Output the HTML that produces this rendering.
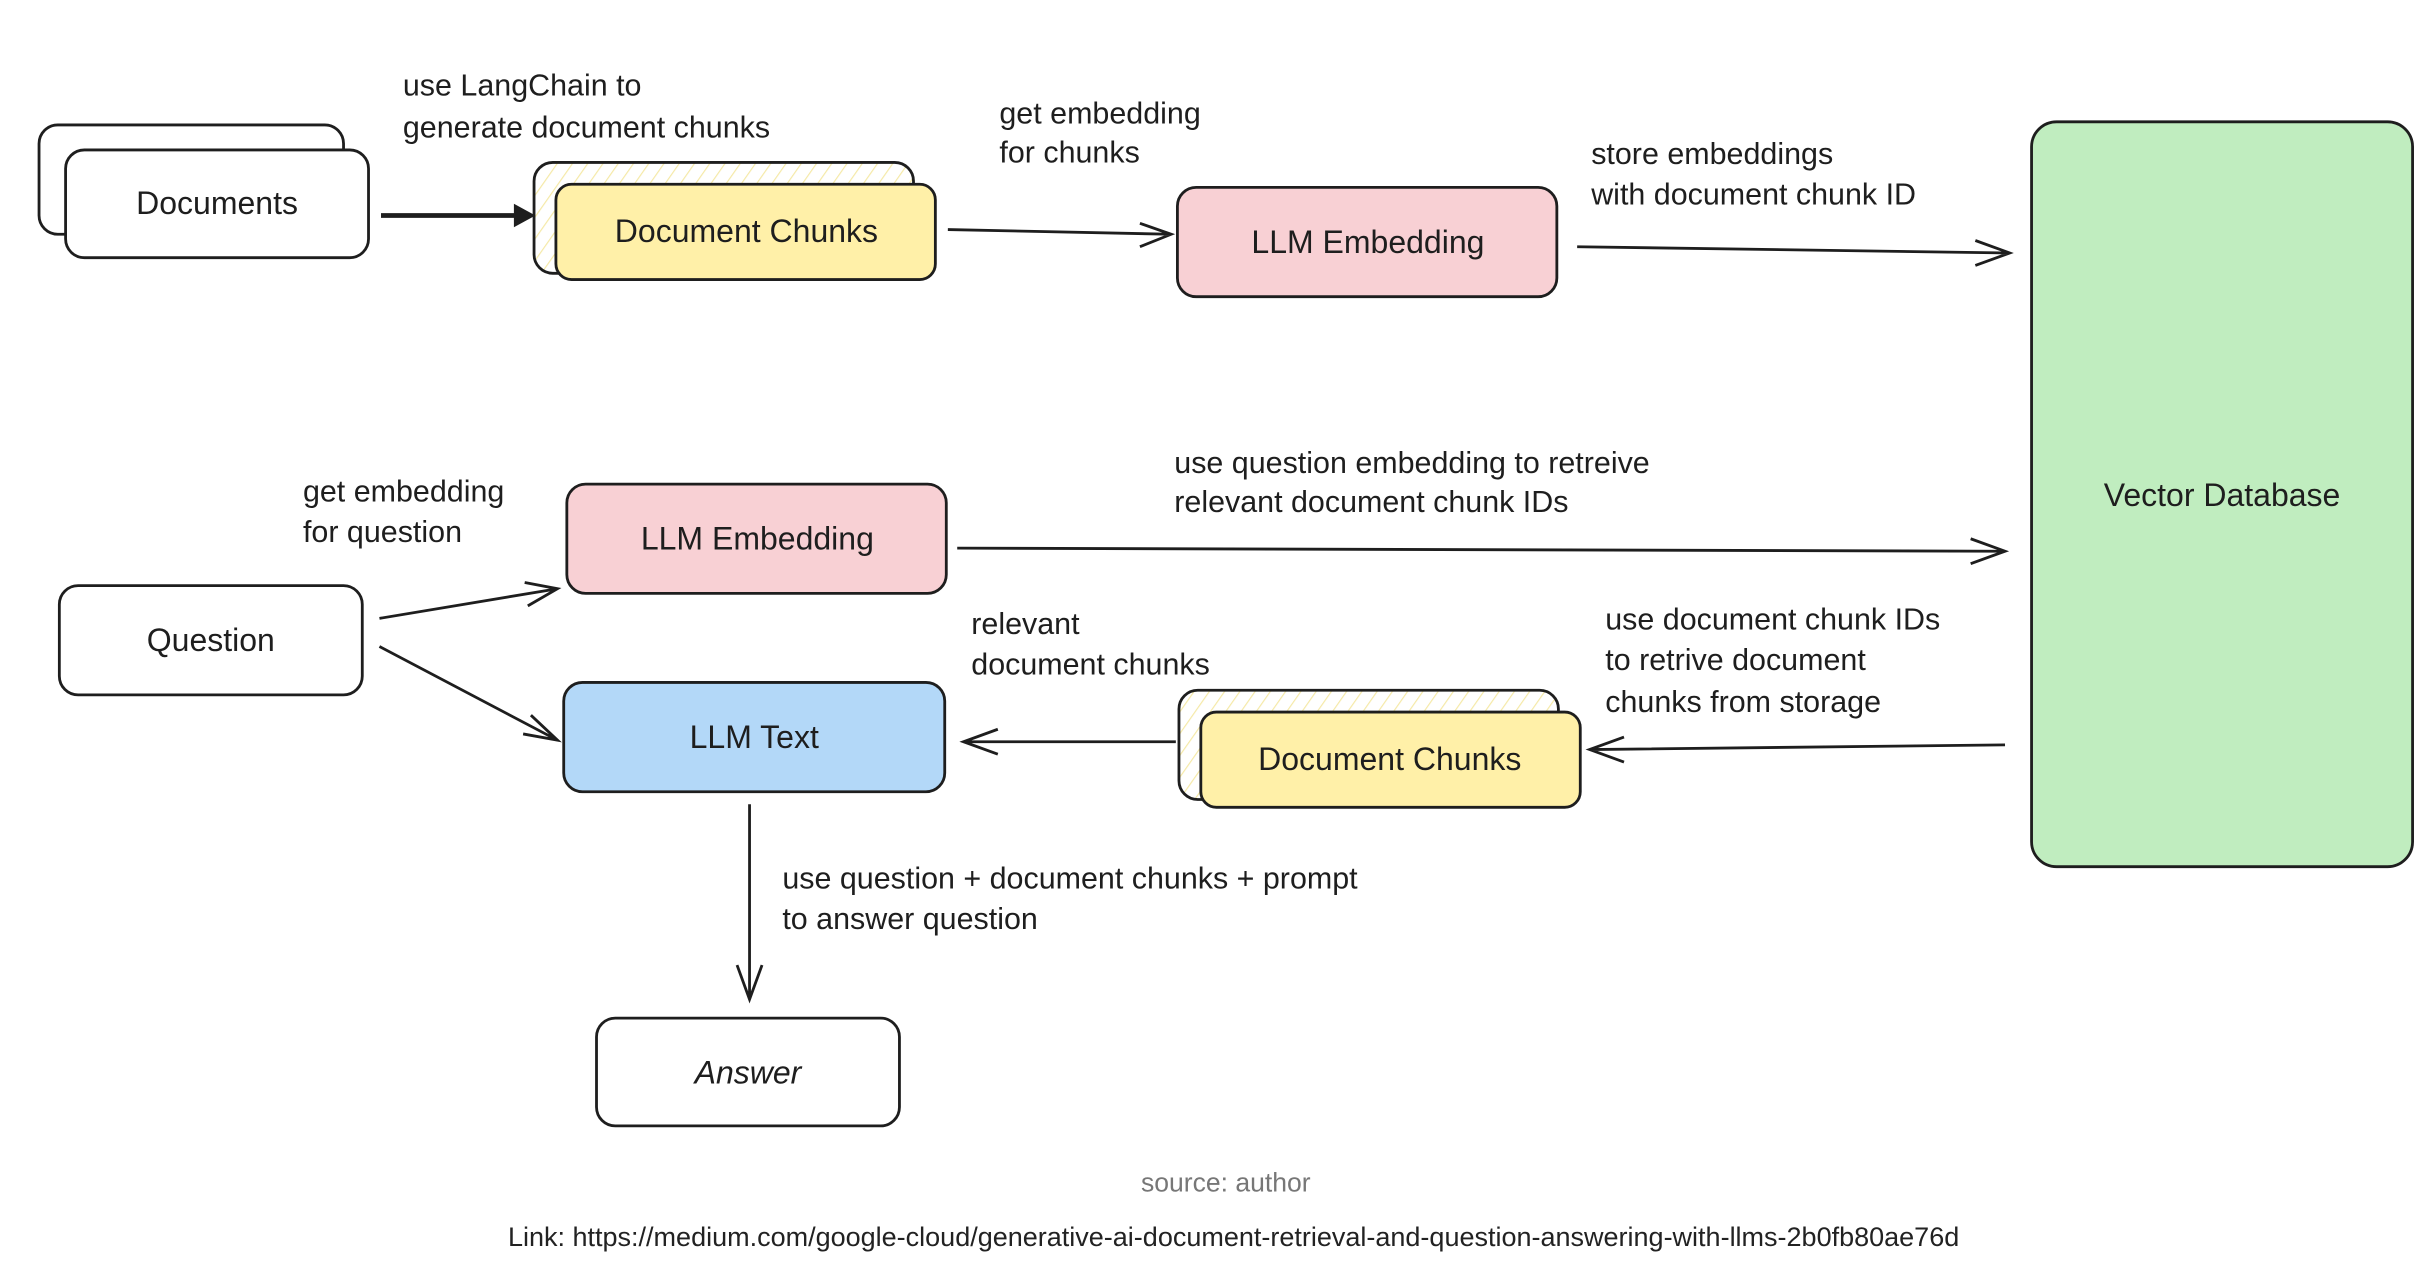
<!DOCTYPE html>
<html><head><meta charset="utf-8"><style>
html,body{margin:0;padding:0;background:#fff;}
svg{display:block;}
text{font-family:"Liberation Sans",sans-serif;fill:#1e1e1e;}
</style></head><body>
<svg width="2436" height="1278" viewBox="0 0 1560 818.4" xmlns="http://www.w3.org/2000/svg">
<defs>
<pattern id="h" width="8" height="8" patternUnits="userSpaceOnUse" patternTransform="rotate(35)">
<rect width="8" height="8" fill="#fff"/><line x1="0" y1="0" x2="0" y2="8" stroke="#f5e9a6" stroke-width="1.5"/>
</pattern>
</defs>
<g stroke="#1e1e1e" stroke-width="1.8" fill="none">
<rect x="25" y="80" width="195" height="70" rx="12" fill="#fff"/>
<rect x="42" y="96" width="194" height="69" rx="12" fill="#fff"/>
<rect x="342" y="104" width="243" height="71" rx="12" fill="url(#h)"/>
<rect x="356" y="118" width="243" height="61" rx="10" fill="#fff0a8"/>
<rect x="754" y="120" width="243" height="70" rx="12" fill="#f8d0d4"/>
<rect x="1301" y="78" width="244" height="477" rx="16" fill="#c0edbf"/>
<rect x="38" y="375" width="194" height="70" rx="12" fill="#fff"/>
<rect x="363" y="310" width="243" height="70" rx="12" fill="#f8d0d4"/>
<rect x="361" y="437" width="244" height="70" rx="12" fill="#b3d8f8"/>
<rect x="755" y="442" width="243" height="70" rx="12" fill="url(#h)"/>
<rect x="769" y="456" width="243" height="61" rx="10" fill="#fff0a8"/>
<rect x="382" y="652" width="194" height="69" rx="12" fill="#fff"/>

<path d="M244 138 L340 138" stroke-width="3"/>
<path d="M330 132 L341 138 L330 144 Z" fill="#1e1e1e"/>
<path d="M607 147 L750 150 M730 143 L750 150 L730 158"/>
<path d="M1010 158 L1287 162 M1265 154 L1287 162 L1265 170"/>
<path d="M243 396 L357 377 M336 373 L357 377 L338 388"/>
<path d="M243 414 L357 474 M340 458 L357 474 L335 470"/>
<path d="M613 351 L1284 353 M1262 345 L1284 353 L1262 361"/>
<path d="M1284 477 L1018 480 M1040 472 L1018 480 L1040 488"/>
<path d="M753 475 L617 475 M639 467 L617 475 L639 483"/>
<path d="M480 515 L480 640 M472 618 L480 640 L488 618"/>
</g>
<g font-size="20.5">
<text x="139" y="137" text-anchor="middle">Documents</text>
<text x="478" y="155" text-anchor="middle">Document Chunks</text>
<text x="876" y="162" text-anchor="middle">LLM Embedding</text>
<text x="1423" y="324" text-anchor="middle">Vector Database</text>
<text x="135" y="417" text-anchor="middle">Question</text>
<text x="485" y="352" text-anchor="middle">LLM Embedding</text>
<text x="483" y="479" text-anchor="middle">LLM Text</text>
<text x="890" y="493" text-anchor="middle">Document Chunks</text>
<text x="479" y="694" text-anchor="middle" font-style="italic">Answer</text>
</g>
<g font-size="19.5">
<text x="258" y="61">use LangChain to</text>
<text x="258" y="88">generate document chunks</text>
<text x="640" y="79">get embedding</text>
<text x="640" y="104">for chunks</text>
<text x="1019" y="105">store embeddings</text>
<text x="1019" y="131">with document chunk ID</text>
<text x="194" y="321">get embedding</text>
<text x="194" y="347">for question</text>
<text x="752" y="303">use question embedding to retreive</text>
<text x="752" y="328">relevant document chunk IDs</text>
<text x="1028" y="403">use document chunk IDs</text>
<text x="1028" y="429">to retrive document</text>
<text x="1028" y="456">chunks from storage</text>
<text x="622" y="406">relevant</text>
<text x="622" y="432">document chunks</text>
<text x="501" y="569">use question + document chunks + prompt</text>
<text x="501" y="595">to answer question</text>
</g>
<text x="785" y="763" text-anchor="middle" font-size="17" style="fill:#777">source: author</text>
<text x="790" y="798" text-anchor="middle" font-size="17.3" style="fill:#222">Link: https://medium.com/google-cloud/generative-ai-document-retrieval-and-question-answering-with-llms-2b0fb80ae76d</text>
</svg>
</body></html>
